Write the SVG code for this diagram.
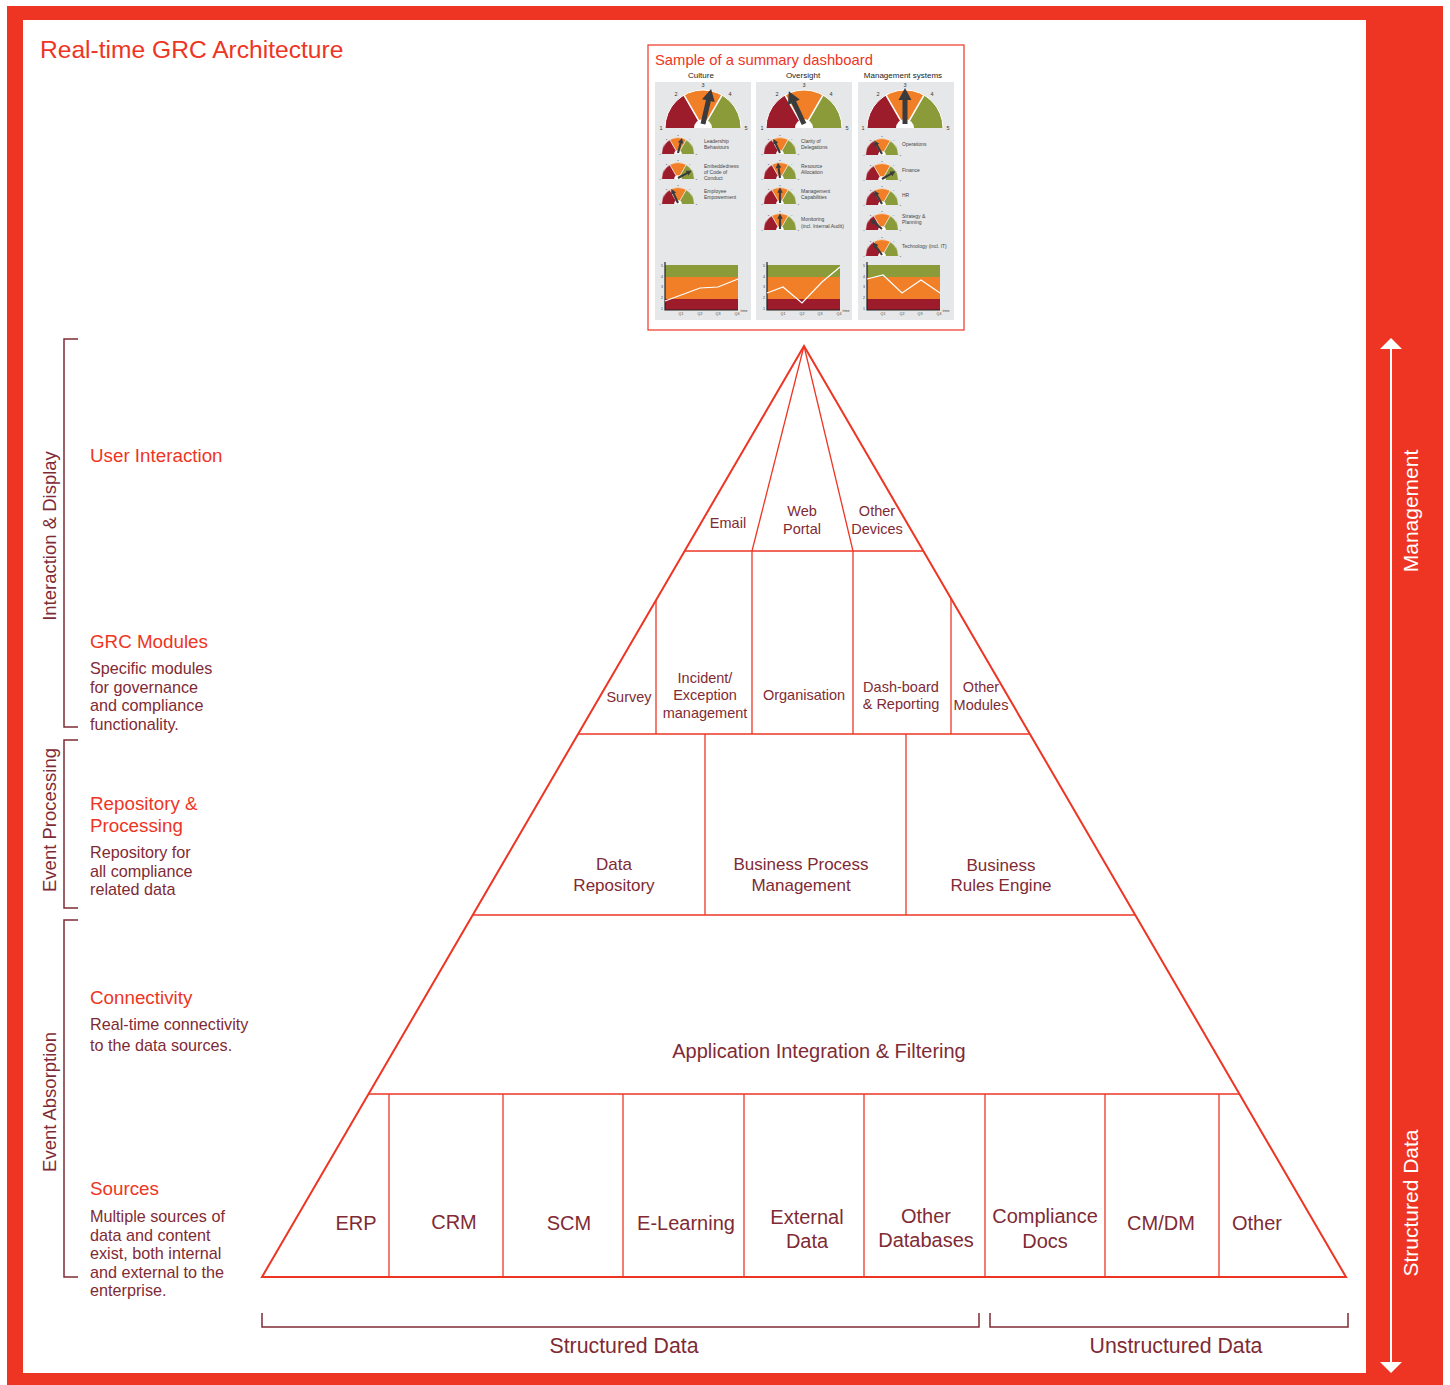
<svg xmlns="http://www.w3.org/2000/svg" width="1450" height="1385" viewBox="0 0 1450 1385">
<style>
.f{font-family:"Liberation Sans",Arial,Helvetica,sans-serif}
.red{fill:#ee3524}
.mr{fill:#7f2b35}
.hd{font-size:18.8px;fill:#ee3524}
.bd{font-size:16.2px;fill:#7f2b35}
.pl{stroke:#ee3524;fill:none;stroke-width:1.3}
.po{stroke:#ee3524;fill:none;stroke-width:2}
.pt{fill:#7f2b35;text-anchor:middle}
.s14{font-size:14.5px}
.s17{font-size:17px}
.s20{font-size:20px}
.br{stroke:#7f2b35;fill:none;stroke-width:1.5}
.mini{font-size:5px;fill:#444}
.cl{font-size:8px;fill:#222;text-anchor:middle}
.ln{fill:none;stroke:#fff;stroke-width:1.2}
</style>
<defs>
<g id="gauge">
<path d="M0,0 L-38,0 A38,38 0 0 1 -19,-32.9 Z" fill="#9d1c2b"/>
<path d="M0,0 L-19,-32.9 A38,38 0 0 1 19,-32.9 Z" fill="#f07f27"/>
<path d="M0,0 L19,-32.9 A38,38 0 0 1 38,0 Z" fill="#8b9b3a"/>
<path d="M0,0 L-19,-32.9 M0,0 L19,-32.9" stroke="#fff" stroke-width="1.5"/>
<path d="M-38,0 A38,38 0 0 1 38,0" fill="none" stroke="#fff" stroke-width="1"/>
<path d="M-9,0 A9,9 0 0 1 9,0 Z" fill="#fff"/>
<g class="f" font-size="5.5" fill="#333" text-anchor="middle">
<text x="-42" y="2">1</text><text x="-27" y="-32">2</text><text x="0" y="-41">3</text><text x="27" y="-32">4</text><text x="43" y="2">5</text>
</g>
</g>
<path id="needle" d="M-2.5,0 L-2.5,-24 L-6.5,-24 L0,-36 L6.5,-24 L2.5,-24 L2.5,0 Z" fill="#3b3b3d"/>
<g id="chart">
<rect x="0" y="0" width="73" height="12" fill="#8b9b3a"/>
<rect x="0" y="12" width="73" height="22" fill="#f07f27"/>
<rect x="0" y="34" width="73" height="11" fill="#9d1c2b"/>
<path d="M0,-3 V45 H73" stroke="#222" fill="none" stroke-width="1.2"/>
<g class="f" font-size="3.6" fill="#444" text-anchor="middle">
<text x="-3" y="2">5</text><text x="-3" y="13">4</text><text x="-3" y="23">3</text><text x="-3" y="34">2</text><text x="-3" y="45">1</text>
<text x="16" y="50">Q1</text><text x="35" y="50">Q2</text><text x="53" y="50">Q3</text><text x="72" y="50">Q4</text>
<text x="79" y="47">time</text>
</g>
</g>
</defs>

<!-- frame -->
<rect x="7" y="6" width="1436" height="1379" fill="#ee3524"/>
<rect x="23" y="20" width="1343" height="1353" fill="#ffffff"/>

<g id="title"><text class="f" x="40" y="58" font-size="24.6" fill="#ee3524">Real-time GRC Architecture</text></g>

<!-- right bar -->
<g id="right-bar">
<line x1="1391" y1="347" x2="1391" y2="1364" stroke="#fff" stroke-width="2"/>
<polygon points="1391,338 1380,349 1402,349" fill="#fff"/>
<polygon points="1391,1373 1380,1362 1402,1362" fill="#fff"/>
<text class="f" font-size="21" fill="#fff" text-anchor="middle" transform="translate(1418,511) rotate(-90)">Management</text>
<text class="f" font-size="21" fill="#fff" text-anchor="middle" transform="translate(1418,1203) rotate(-90)">Structured Data</text>
</g>

<!-- dashboard -->
<g id="dashboard">
<rect x="648" y="45" width="316" height="285" fill="#fff" stroke="#ee3524" stroke-width="1.2"/>
<text class="f" x="655" y="65" font-size="14.8" fill="#ee3524">Sample of a summary dashboard</text>
<rect x="655" y="82" width="96" height="238" fill="#e6e7e8"/>
<rect x="756" y="82" width="96" height="238" fill="#e6e7e8"/>
<rect x="858" y="82" width="96" height="238" fill="#e6e7e8"/>
<g class="f">
<text class="cl" x="701" y="78">Culture</text>
<text class="cl" x="803" y="78">Oversight</text>
<text class="cl" x="903" y="78">Management systems</text>
</g>
<use href="#gauge" transform="translate(703,128)"/>
<use href="#needle" transform="translate(703,124) rotate(13)"/>
<use href="#gauge" transform="translate(804,128)"/>
<use href="#needle" transform="translate(804,124) rotate(-25)"/>
<use href="#gauge" transform="translate(905,128)"/>
<use href="#needle" transform="translate(905,124)"/>
<use href="#gauge" transform="translate(678,154) scale(0.43)"/>
<use href="#needle" transform="translate(678,153) rotate(15) scale(0.43)"/>
<use href="#gauge" transform="translate(678,179) scale(0.43)"/>
<use href="#needle" transform="translate(678,178) rotate(62) scale(0.43)"/>
<use href="#gauge" transform="translate(678,204) scale(0.43)"/>
<use href="#needle" transform="translate(678,203) rotate(-25) scale(0.43)"/>
<g class="f mini">
<text x="704" y="143">Leadership</text><text x="704" y="149">Behaviours</text>
<text x="704" y="168">Embeddedness</text><text x="704" y="174">of Code of</text><text x="704" y="180">Conduct</text>
<text x="704" y="193">Employee</text><text x="704" y="199">Empowerment</text>
</g>
<use href="#gauge" transform="translate(780,154) scale(0.43)"/>
<use href="#needle" transform="translate(780,153) rotate(-25) scale(0.43)"/>
<use href="#gauge" transform="translate(780,179) scale(0.43)"/>
<use href="#needle" transform="translate(780,178) rotate(-8) scale(0.43)"/>
<use href="#gauge" transform="translate(780,204) scale(0.43)"/>
<use href="#needle" transform="translate(780,203) scale(0.43)"/>
<use href="#gauge" transform="translate(780,230) scale(0.43)"/>
<use href="#needle" transform="translate(780,229) scale(0.43)"/>
<g class="f mini">
<text x="801" y="143">Clarity of</text><text x="801" y="149">Delegations</text>
<text x="801" y="168">Resource</text><text x="801" y="174">Allocation</text>
<text x="801" y="193">Management</text><text x="801" y="199">Capabilities</text>
<text x="801" y="221">Monitoring</text><text x="801" y="228">(incl. Internal Audit)</text>
</g>
<use href="#gauge" transform="translate(882,155) scale(0.43)"/>
<use href="#needle" transform="translate(882,154) rotate(-30) scale(0.43)"/>
<use href="#gauge" transform="translate(882,180) scale(0.43)"/>
<use href="#needle" transform="translate(882,179) rotate(60) scale(0.43)"/>
<use href="#gauge" transform="translate(882,205) scale(0.43)"/>
<use href="#needle" transform="translate(882,204) rotate(-30) scale(0.43)"/>
<use href="#gauge" transform="translate(882,230) scale(0.43)"/>
<use href="#needle" transform="translate(882,229) rotate(-50) scale(0.43)"/>
<use href="#gauge" transform="translate(882,256) scale(0.43)"/>
<use href="#needle" transform="translate(882,255) rotate(-35) scale(0.43)"/>
<g class="f mini">
<text x="902" y="146">Operations</text>
<text x="902" y="172">Finance</text>
<text x="902" y="197">HR</text>
<text x="902" y="218">Strategy &amp;</text><text x="902" y="224">Planning</text>
<text x="902" y="248">Technology (incl. IT)</text>
</g>
<use href="#chart" transform="translate(665,265)"/>
<polyline class="ln" points="665,301 700,288 718,287 738,279"/>
<use href="#chart" transform="translate(767,265)"/>
<polyline class="ln" points="767,293 783,287 802,303 822,282 840,267"/>
<use href="#chart" transform="translate(867,265)"/>
<polyline class="ln" points="867,279 883,275 902,293 921,280 940,293"/>
</g>

<!-- left labels -->
<g id="left-side" class="f">
<path class="br" d="M78,339 H64 V727 H78"/>
<path class="br" d="M78,740 H64 V908 H78"/>
<path class="br" d="M78,920 H64 V1277 H78"/>
<text class="mr" font-size="18.5" text-anchor="middle" transform="translate(56,536) rotate(-90)">Interaction &amp; Display</text>
<text class="mr" font-size="18.5" text-anchor="middle" transform="translate(56,820) rotate(-90)">Event Processing</text>
<text class="mr" font-size="18.5" text-anchor="middle" transform="translate(56,1102) rotate(-90)">Event Absorption</text>
</g>
<g id="layer-user-interaction" class="f"><text class="hd" x="90" y="462">User Interaction</text></g>
<g id="layer-grc-modules" class="f">
<text class="hd" x="90" y="648">GRC Modules</text>
<text class="bd" x="90" y="674">Specific modules</text>
<text class="bd" x="90" y="693">for governance</text>
<text class="bd" x="90" y="711">and compliance</text>
<text class="bd" x="90" y="730">functionality.</text>
</g>
<g id="layer-repository" class="f">
<text class="hd" x="90" y="810">Repository &amp;</text>
<text class="hd" x="90" y="832">Processing</text>
<text class="bd" x="90" y="858">Repository for</text>
<text class="bd" x="90" y="877">all compliance</text>
<text class="bd" x="90" y="895">related data</text>
</g>
<g id="layer-connectivity" class="f">
<text class="hd" x="90" y="1004">Connectivity</text>
<text class="bd" x="90" y="1030">Real-time connectivity</text>
<text class="bd" x="90" y="1051">to the data sources.</text>
</g>
<g id="layer-sources" class="f">
<text class="hd" x="90" y="1195">Sources</text>
<text class="bd" x="90" y="1222">Multiple sources of</text>
<text class="bd" x="90" y="1241">data and content</text>
<text class="bd" x="90" y="1259">exist, both internal</text>
<text class="bd" x="90" y="1278">and external to the</text>
<text class="bd" x="90" y="1296">enterprise.</text>
</g>

<!-- pyramid structure -->
<g id="connectors">
<polygon class="po" points="804,346 262,1277 1346,1277"/>
<line class="pl" x1="685" y1="551" x2="923" y2="551"/>
<line class="pl" x1="578" y1="734" x2="1030" y2="734"/>
<line class="pl" x1="473" y1="915" x2="1135" y2="915"/>
<line class="pl" x1="369" y1="1094" x2="1239" y2="1094"/>
<line class="pl" x1="804" y1="346" x2="752" y2="551"/>
<line class="pl" x1="804" y1="346" x2="853" y2="551"/>
<line class="pl" x1="656" y1="600" x2="656" y2="734"/>
<line class="pl" x1="752" y1="551" x2="752" y2="734"/>
<line class="pl" x1="853" y1="551" x2="853" y2="734"/>
<line class="pl" x1="951" y1="599" x2="951" y2="734"/>
<line class="pl" x1="705" y1="734" x2="705" y2="915"/>
<line class="pl" x1="906" y1="734" x2="906" y2="915"/>
<line class="pl" x1="389" y1="1094" x2="389" y2="1277"/>
<line class="pl" x1="503" y1="1094" x2="503" y2="1277"/>
<line class="pl" x1="623" y1="1094" x2="623" y2="1277"/>
<line class="pl" x1="744" y1="1094" x2="744" y2="1277"/>
<line class="pl" x1="864" y1="1094" x2="864" y2="1277"/>
<line class="pl" x1="985" y1="1094" x2="985" y2="1277"/>
<line class="pl" x1="1105" y1="1094" x2="1105" y2="1277"/>
<line class="pl" x1="1219" y1="1094" x2="1219" y2="1277"/>
<path class="br" d="M262,1313 V1327 H979 V1313"/>
<path class="br" d="M990,1313 V1327 H1348 V1313"/>
</g>

<!-- pyramid nodes -->
<g class="f">
<g id="n-email"><text class="pt s14" x="728" y="528">Email</text></g>
<g id="n-webportal"><text class="pt s14" x="802" y="516">Web</text><text class="pt s14" x="802" y="534">Portal</text></g>
<g id="n-otherdevices"><text class="pt s14" x="877" y="516">Other</text><text class="pt s14" x="877" y="534">Devices</text></g>
<g id="n-survey"><text class="pt s14" x="629" y="702">Survey</text></g>
<g id="n-incident"><text class="pt s14" x="705" y="683">Incident/</text><text class="pt s14" x="705" y="700">Exception</text><text class="pt s14" x="705" y="718">management</text></g>
<g id="n-organisation"><text class="pt s14" x="804" y="700">Organisation</text></g>
<g id="n-dashboard"><text class="pt s14" x="901" y="692">Dash-board</text><text class="pt s14" x="901" y="709">&amp; Reporting</text></g>
<g id="n-othermodules"><text class="pt s14" x="981" y="692">Other</text><text class="pt s14" x="981" y="710">Modules</text></g>
<g id="n-datarepo"><text class="pt s17" x="614" y="870">Data</text><text class="pt s17" x="614" y="891">Repository</text></g>
<g id="n-bpm"><text class="pt s17" x="801" y="870">Business Process</text><text class="pt s17" x="801" y="891">Management</text></g>
<g id="n-rules"><text class="pt s17" x="1001" y="871">Business</text><text class="pt s17" x="1001" y="891">Rules Engine</text></g>
<g id="n-integration"><text class="pt s20" x="819" y="1058">Application Integration &amp; Filtering</text></g>
<g id="n-erp"><text class="pt s20" x="356" y="1230">ERP</text></g>
<g id="n-crm"><text class="pt s20" x="454" y="1229">CRM</text></g>
<g id="n-scm"><text class="pt s20" x="569" y="1230">SCM</text></g>
<g id="n-elearning"><text class="pt s20" x="686" y="1230">E-Learning</text></g>
<g id="n-external"><text class="pt s20" x="807" y="1224">External</text><text class="pt s20" x="807" y="1248">Data</text></g>
<g id="n-otherdb"><text class="pt s20" x="926" y="1223">Other</text><text class="pt s20" x="926" y="1247">Databases</text></g>
<g id="n-compliance"><text class="pt s20" x="1045" y="1223">Compliance</text><text class="pt s20" x="1045" y="1248">Docs</text></g>
<g id="n-cmdm"><text class="pt s20" x="1161" y="1230">CM/DM</text></g>
<g id="n-other"><text class="pt s20" x="1257" y="1230">Other</text></g>
<g id="n-structured"><text class="pt" font-size="21.3" x="624" y="1353">Structured Data</text></g>
<g id="n-unstructured"><text class="pt" font-size="21.3" x="1176" y="1353">Unstructured Data</text></g>
</g>
</svg>
